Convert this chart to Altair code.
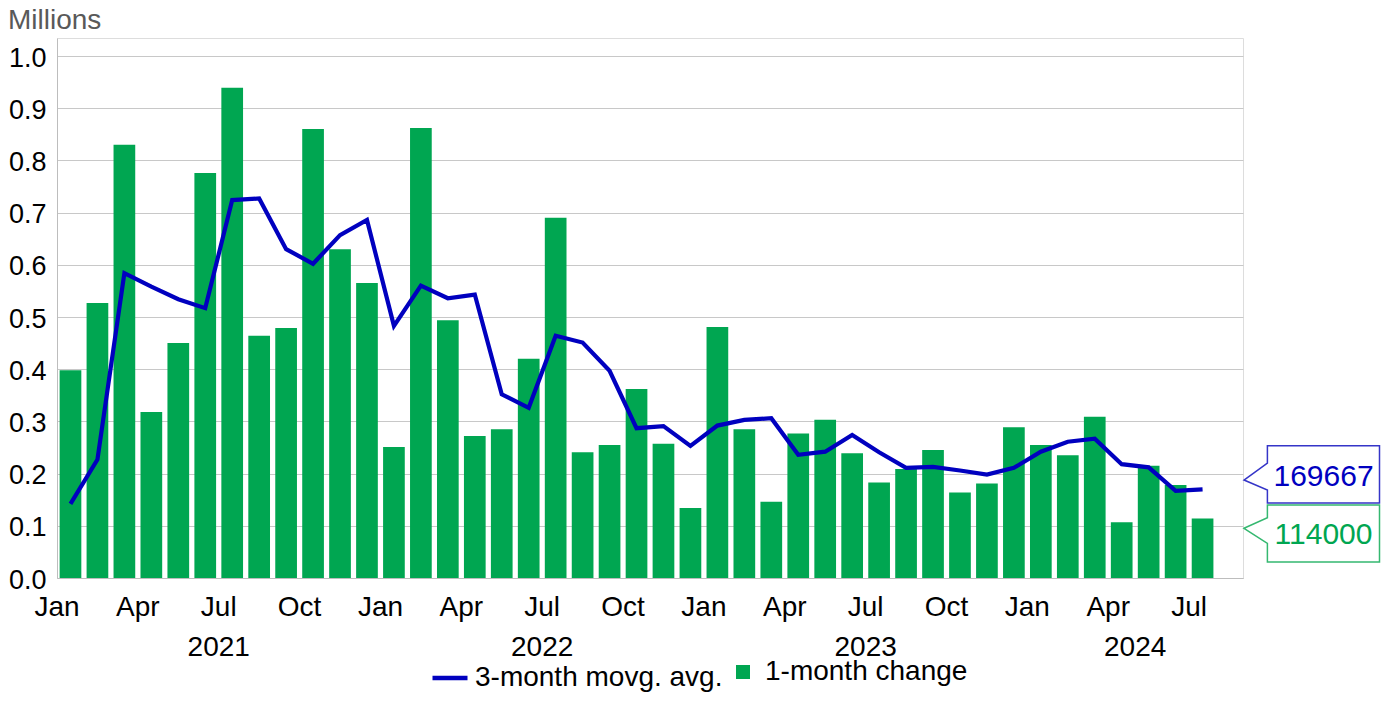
import altair as alt
import pandas as pd

FONT = "Liberation Sans, Arial, sans-serif"
GREEN = "#00A651"
BLUE = "#0000BF"

# Month categories: Jan 2021 .. Aug 2024 (Aug 2024 slot is empty)
years = [2021, 2022, 2023, 2024]
months_all = [f"{y}-{m:02d}" for y in years for m in range(1, 13)][:44]

# 1-month change (millions), Jan 2021 .. Jul 2024
change_1m = [
    0.398, 0.527, 0.830, 0.318, 0.450, 0.776, 0.939, 0.464, 0.479, 0.860, 0.630, 0.565,
    0.251, 0.862, 0.494, 0.272, 0.285, 0.420, 0.690, 0.241, 0.255, 0.362, 0.257, 0.134,
    0.481, 0.285, 0.146, 0.277, 0.303, 0.239, 0.183, 0.209, 0.245, 0.164, 0.181, 0.289,
    0.255, 0.235, 0.309, 0.107, 0.215, 0.178, 0.114,
]
# 3-month moving average (millions)
movg_avg_3m = [
    0.142, 0.227, 0.584, 0.558, 0.534, 0.517, 0.724, 0.727, 0.630, 0.602, 0.657, 0.686,
    0.483, 0.560, 0.536, 0.543, 0.352, 0.326, 0.464, 0.451, 0.397, 0.287, 0.291, 0.253,
    0.292, 0.303, 0.306, 0.236, 0.242, 0.274, 0.241, 0.211, 0.213, 0.206, 0.198, 0.211,
    0.242, 0.261, 0.267, 0.218, 0.212, 0.167, 0.169667,
]

year_labels = ["2021", "2022", "2023", "2024"]
year_label_pos = ["2021-07", "2022-07", "2023-07", "2024-05"]

callout_line_value = [0.169667]
callout_line_text = ["169667"]
callout_bar_value = [0.114]
callout_bar_text = ["114000"]

W, H = 1186, 540
YMAX = 1.0345
STEP = W / 44.0

df = pd.DataFrame({
    "month": months_all[:43],
    "change": change_1m,
    "avg": movg_avg_3m,
    "s_bar": ["1-month change"] * 43,
    "s_line": ["3-month movg. avg."] * 43,
})

xscale = alt.Scale(domain=months_all, paddingInner=0.195, paddingOuter=0.0975)
yscale = alt.Scale(domain=[0, YMAX], nice=False, zero=True)

label_expr = (
    "substring(datum.value,5,7)=='01' ? 'Jan' : "
    "substring(datum.value,5,7)=='04' ? 'Apr' : "
    "substring(datum.value,5,7)=='07' ? 'Jul' : "
    "substring(datum.value,5,7)=='10' ? 'Oct' : ''"
)

x_axis = alt.Axis(
    title=None, labelExpr=label_expr, labelOffset=-STEP / 2,
    ticks=False, grid=False, domainColor="#bdbdbd", labelFontSize=28,
    labelColor="black", labelFont=FONT, labelPadding=15, labelAngle=0,
    labelOverlap=False,
)
y_axis = alt.Axis(
    title=None, values=[round(i * 0.1, 1) for i in range(11)], format=".1f",
    ticks=False, domain=True, domainColor="#bdbdbd", grid=True,
    gridColor="#c8c8c8", labelFontSize=27, labelColor="black", labelFont=FONT,
    labelPadding=11, labelOffset=2,
)

base = alt.Chart(df)

bars = base.mark_bar().encode(
    x=alt.X("month:O", scale=xscale, axis=x_axis),
    y=alt.Y("change:Q", scale=yscale, axis=y_axis),
    fill=alt.Fill(
        "s_bar:N",
        scale=alt.Scale(domain=["1-month change"], range=[GREEN]),
        legend=alt.Legend(
            orient="none", legendX=672, legendY=620, title=None,
            symbolType="square", symbolSize=196, symbolStrokeWidth=0,
            labelFontSize=28, labelFont=FONT, labelColor="black",
            labelOffset=8, padding=0, labelLimit=600,
        ),
    ),
)

line = base.mark_line(strokeWidth=4.2).encode(
    x=alt.X("month:O", title=None),
    y=alt.Y("avg:Q", title=None),
    stroke=alt.Stroke(
        "s_line:N",
        scale=alt.Scale(domain=["3-month movg. avg."], range=[BLUE]),
        legend=alt.Legend(
            orient="none", legendX=373, legendY=620, title=None,
            symbolType="stroke", symbolSize=1225, symbolStrokeWidth=4.5,
            labelFontSize=28, labelFont=FONT, labelColor="black",
            labelOffset=5, padding=0, labelLimit=600,
        ),
    ),
)

years_df = pd.DataFrame({"pos": year_label_pos, "year": year_labels})
year_text = alt.Chart(years_df).mark_text(
    fontSize=28, font=FONT, color="black", align="center",
    baseline="alphabetic", dx=-2.63,
).encode(
    x=alt.X("pos:O", bandPosition=0, title=None),
    y=alt.value(618),
    text="year:N",
)

title_df = pd.DataFrame({"t": ["Millions"]})
title_text = alt.Chart(title_df).mark_text(
    fontSize=28, font=FONT, color="#595959", align="left", baseline="alphabetic",
).encode(x=alt.value(-49), y=alt.value(-9), text="t:N")

PATH_BLUE = "M0,0 L23.4,-17 L23.4,-34.3 L135.5,-34.3 L135.5,23 L23.4,23 L23.4,10 Z"
PATH_GREEN = "M0,0 L23.4,-10.6 L23.4,-23.3 L135.5,-23.3 L135.5,33.7 L23.4,33.7 L23.4,15 Z"

cl_df = pd.DataFrame({"v": callout_line_value, "t": callout_line_text})
cb_df = pd.DataFrame({"v": callout_bar_value, "t": callout_bar_text})

cl_box = alt.Chart(cl_df).mark_point(
    shape=PATH_BLUE, size=4, filled=True, fill="white", stroke="#3535c8",
    strokeWidth=1.5, opacity=1, yOffset=-9.4,
).encode(x=alt.value(W + 1), y=alt.Y("v:Q", title=None))
cl_txt = alt.Chart(cl_df).mark_text(
    fontSize=30, font=FONT, color=BLUE, align="center", baseline="middle",
    dx=79.5, dy=-12.7,
).encode(x=alt.value(W + 1), y=alt.Y("v:Q", title=None), text="t:N")

cb_box = alt.Chart(cb_df).mark_point(
    shape=PATH_GREEN, size=4, filled=True, fill="white", stroke="#35b870",
    strokeWidth=1.5, opacity=1, yOffset=9.8,
).encode(x=alt.value(W + 1), y=alt.Y("v:Q", title=None))
cb_txt = alt.Chart(cb_df).mark_text(
    fontSize=30, font=FONT, color=GREEN, align="center", baseline="middle",
    dx=79.5, dy=16.2,
).encode(x=alt.value(W + 1), y=alt.Y("v:Q", title=None), text="t:N")

chart = alt.layer(
    bars, line, year_text, title_text, cb_box, cl_box, cl_txt, cb_txt
).properties(
    width=W, height=H,
    autosize=alt.AutoSizeParams(type="none"),
    padding={"left": 49, "top": 30, "right": 138, "bottom": 116},
).configure_view(stroke=None).configure(background="white")

chart.save("out.html", embed_options={"renderer": "svg", "actions": False})
